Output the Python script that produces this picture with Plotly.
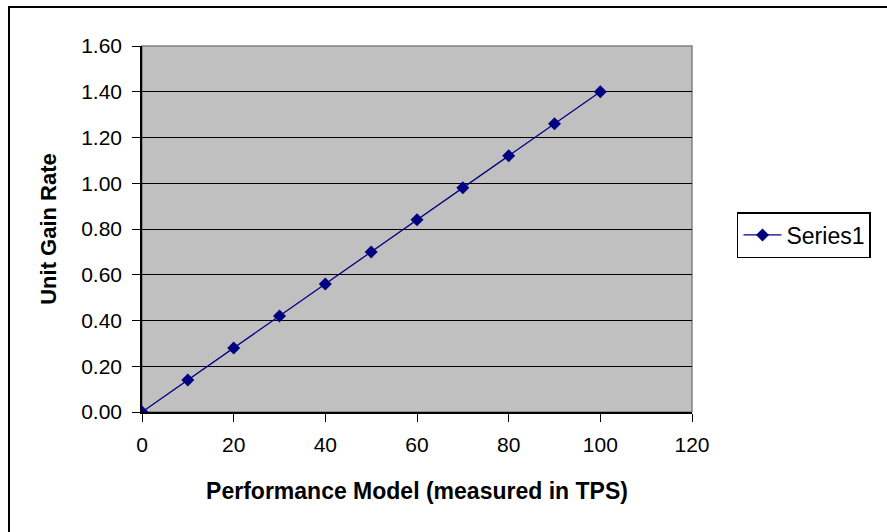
import plotly.graph_objects as go

# Throughput (TPS) vs. unit gain rate
tps = [0, 10, 20, 30, 40, 50, 60, 70, 80, 90, 100]
gain_rate = [0.00, 0.14, 0.28, 0.42, 0.56, 0.70, 0.84, 0.98, 1.12, 1.26, 1.40]
series_name = "Series1"

x_title = "Performance Model (measured in TPS)"
y_title = "Unit Gain Rate"

FONT = "Liberation Sans, Arial, sans-serif"
NAVY = "#000080"

fig = go.Figure()
fig.add_trace(go.Scatter(
    x=tps, y=gain_rate, name=series_name, mode="lines+markers",
    line=dict(color=NAVY, width=1.3),
    marker=dict(symbol="diamond", size=10, color=NAVY),
))

# plot area: gray fill with thin gray frame
fig.add_shape(type="rect", xref="paper", yref="paper", x0=0, x1=1, y0=0, y1=1,
              line=dict(color="#808080", width=1.5), layer="below")

# outer chart border
fig.add_shape(type="rect", xref="paper", yref="paper",
              x0=-0.2418, x1=1.37, y0=-0.34, y1=1.1066,
              line=dict(color="black", width=2))

fig.update_layout(
    width=887, height=532,
    margin=dict(l=142, r=195, t=46, b=120),
    paper_bgcolor="white", plot_bgcolor="#C0C0C0",
    font=dict(family=FONT, size=20, color="black"),
    showlegend=True,
    legend=dict(x=1.0818, y=0.5464, xanchor="left", yanchor="top",
                bordercolor="black", borderwidth=1.5, bgcolor="white",
                font=dict(size=23), itemwidth=38),
    xaxis=dict(range=[0, 120], tickvals=[0, 20, 40, 60, 80, 100, 120],
               showgrid=False, zeroline=False, showline=True, linecolor="black",
               linewidth=1.5, ticks="outside", ticklen=8, tickcolor="black",
               tickfont=dict(size=21), ticklabelstandoff=5,
               title=dict(text="<b>" + x_title + "</b>", font=dict(size=23), standoff=28)),
    yaxis=dict(range=[0, 1.6], tickvals=[0, 0.2, 0.4, 0.6, 0.8, 1.0, 1.2, 1.4, 1.6],
               tickformat=".2f", showgrid=True, gridcolor="black", gridwidth=1.3,
               zeroline=False, showline=True, linecolor="black", linewidth=1.5,
               ticks="outside", ticklen=8, tickcolor="black",
               tickfont=dict(size=21), ticklabelstandoff=6,
               title=dict(text="<b>" + y_title + "</b>", font=dict(size=22), standoff=18)),
)

fig.write_html("out.html")
